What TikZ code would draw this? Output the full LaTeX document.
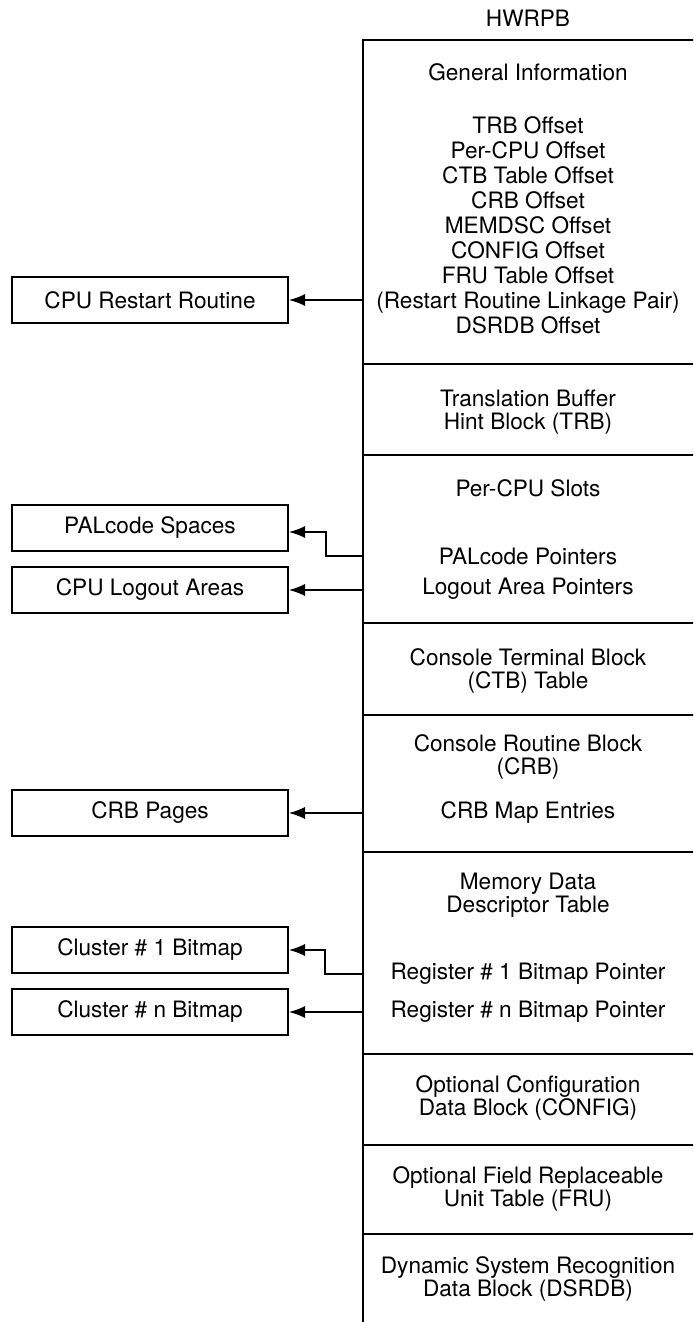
\documentclass[tikz,border=0pt]{standalone}
\usepackage{fontspec}
\setmainfont{TeX Gyre Heros}
\usetikzlibrary{arrows.meta}

\begin{document}
\begin{tikzpicture}[x=0.5pt,y=-0.5pt,font=\fontsize{11.3}{11.5}\selectfont,
  t/.style={align=center,inner sep=0pt},
  offs/.style={t,font=\fontsize{11.3}{12.5}\selectfont},
  area/.style={draw,line width=1pt,minimum width=138pt,minimum height=23pt,inner sep=0pt},
  ptr/.style={-{Latex[length=8pt,width=6pt]},line width=0.6pt}]
\useasboundingbox (0,0) rectangle (693,1322);
\clip (0,0) rectangle (693,1322);
\coordinate (tl) at (363,40);
\draw[line width=1.3pt] (700,40) -- (tl) -- (363,1330);
\foreach \y in {364,455,623,715,852,1054,1145,1234}
  \draw[line width=0.8pt] (363,\y) -- (700,\y);
\node[t] (hwrpb) at (528,18) {HWRPB};
\node[t] (geninfo) at (528,72) {General Information};
\node[offs] (offsets) at (528,225) {TRB Offset\\Per-CPU Offset\\CTB Table Offset\\CRB Offset\\MEMDSC Offset\\CONFIG Offset\\FRU Table Offset\\(Restart Routine Linkage Pair)\\DSRDB Offset};
\node[t] (trb) at (528,412) {Translation Buffer\\Hint Block (TRB)};
\node[t] (slots) at (528,488) {Per-CPU Slots};
\node[t] (palptr) at (528,556) {PALcode Pointers};
\node[t] (logptr) at (528,589) {Logout Area Pointers};
\node[t] (ctb) at (528,671) {Console Terminal Block\\(CTB) Table};
\node[t] (crb) at (528,757) {Console Routine Block\\(CRB)};
\node[t] (crbmap) at (528,813) {CRB Map Entries};
\node[t] (memdsc) at (528,895) {Memory Data\\Descriptor Table};
\node[t] (reg1) at (528,974) {Register \# 1 Bitmap Pointer};
\node[t] (regn) at (528,1012) {Register \# n Bitmap Pointer};
\node[t] (config) at (528,1098) {Optional Configuration\\Data Block (CONFIG)};
\node[t] (fru) at (528,1189) {Optional Field Replaceable\\Unit Table (FRU)};
\node[t] (dsrdb) at (528,1279) {Dynamic System Recognition\\Data Block (DSRDB)};
\node[area] (restart) at (150,300) {CPU Restart Routine};
\node[area] (palsp) at (150,528) {PALcode Spaces};
\node[area] (logout) at (150,590) {CPU Logout Areas};
\node[area] (crbpg) at (150,813) {CRB Pages};
\node[area] (cl1) at (150,950) {Cluster \# 1 Bitmap};
\node[area] (cln) at (150,1012) {Cluster \# n Bitmap};
\draw[ptr] (restart.east -| tl) -- (restart.east);
\draw[ptr] (palptr.west -| tl) -- ++(-37,0) |- ([yshift=-2pt]palsp.east);
\draw[ptr] (logout.east -| tl) -- (logout.east);
\draw[ptr] (crbpg.east -| tl) -- (crbpg.east);
\draw[ptr] (reg1.west -| tl) -- ++(-38,0) |- (cl1.east);
\draw[ptr] (cln.east -| tl) -- (cln.east);
\end{tikzpicture}
\end{document}
